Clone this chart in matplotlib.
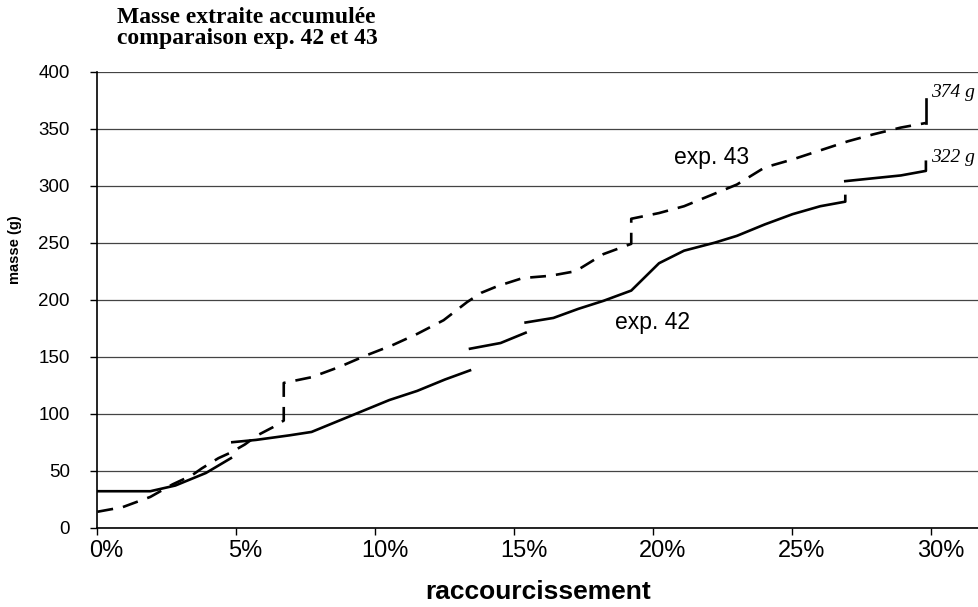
import numpy as np
import matplotlib.pyplot as plt
from matplotlib.ticker import FuncFormatter
from matplotlib.transforms import ScaledTranslation

# raccourcissement (%) / masse (g) -- nan = coupure dans la courbe
exp42_x = [0, 1.9, 2.8, 3.9, 4.8, np.nan,
           4.85, 5.7, 6.9, 7.7, 9.3, 10.5, 11.5, 12.5, 13.4, np.nan,
           13.4, 14.5, 15.4, np.nan,
           15.4, 16.4, 17.3, 18.2, 19.2, 20.2, 21.1, 22.2, 23.0, 24.0, 25.0, 26.0, 26.9, 26.9, np.nan,
           26.9, 28.9, 29.8, 29.8]
exp42_y = [32, 32, 37, 48, 61, np.nan,
           75, 77, 81, 84, 100, 112, 120, 130, 138, np.nan,
           157, 162, 171, np.nan,
           180, 184, 192, 199, 208, 232, 243, 250, 256, 266, 275, 282, 286, 291, np.nan,
           304, 309, 313, 321]

exp43_x = [0, 0.9, 1.9, 2.7, 3.4, 3.75, 4.35, 4.8, 5.3, 5.75, 6.3, 6.7, 6.7,
           7.7, 8.7, 9.65, 10.6, 11.5, 12.45, 13.3, 13.8, 14.4, 15.3, 16.3, 17.2, 18.2, 19.2, 19.2,
           20.2, 21.1, 22.0, 23.0, 24.0, 25.0, 26.0, 27.0, 27.9, 28.9, 29.8, 29.8]
exp43_y = [14, 18, 27, 38, 46, 52, 61, 66, 73, 81, 88, 94, 127,
           132, 141, 151, 160, 170, 182, 198, 206, 212, 219, 221, 225, 240, 249, 271,
           276, 282, 291, 301, 316, 323, 331, 339, 345, 351, 355, 376]

yticks = [0, 50, 100, 150, 200, 250, 300, 350, 400]
xticks = [0, 5, 10, 15, 20, 25, 30]

fig = plt.figure(figsize=(9.79, 6.07), dpi=100)
ax = fig.add_axes([97.5 / 979, 79.3 / 607, 1 - 97.5 / 979, 456 / 607])

ax.plot(exp42_x, exp42_y, color="black", lw=1.9)
# courbe 43 en tirets, le trait final (masse totale) en plein
ax.plot(exp43_x[:-1], exp43_y[:-1], color="black", lw=1.9, dashes=(6, 3.8))
ax.plot(exp43_x[-2:], exp43_y[-2:], color="black", lw=1.9)

ax.set_xlim(0, 31.71)
ax.set_ylim(0, 400)
ax.set_yticks(yticks)
ax.set_xticks(xticks)
ax.xaxis.set_major_formatter(FuncFormatter(lambda v, p: f"{v:.0f}%"))
ax.yaxis.grid(True, color="#444444", lw=0.9)
ax.set_axisbelow(True)
for s in ["top", "right"]:
    ax.spines[s].set_visible(False)
ax.spines["left"].set_linewidth(1.2)
ax.spines["bottom"].set_linewidth(1.2)
ax.tick_params(direction="out", length=5, width=1, labelfontfamily="Liberation Sans")
ax.tick_params(axis="x", labelsize=17, pad=4)
ax.tick_params(axis="y", labelsize=13.5, pad=15)

# les etiquettes de l'axe x sont un peu decalees vers la droite
shift = ScaledTranslation(9 / 100, 0, fig.dpi_scale_trans)
for lbl in ax.get_xticklabels():
    lbl.set_transform(lbl.get_transform() + shift)

ax.set_xlabel("raccourcissement", fontsize=19, fontweight="bold",
              family="Liberation Sans", labelpad=13)
ax.set_ylabel("masse (g)", fontsize=10.5, fontweight="bold", family="Liberation Sans")
ax.yaxis.set_label_coords(-0.086, 0.61)

fig.text(117 / 979, 1 - 28 / 607, "Masse extraite accumulée\ncomparaison exp. 42 et 43",
         family="Liberation Serif", fontweight="bold", fontsize=17,
         va="center", ha="left", linespacing=0.95)

ax.text(22.1, 325, "exp. 43", fontsize=16.5, family="Liberation Sans", ha="center", va="center")
ax.text(19.95, 180, "exp. 42", fontsize=16.5, family="Liberation Sans", ha="center", va="center")
ax.text(30.0, 382, "374 g", fontsize=14, family="Liberation Serif", style="italic",
        ha="left", va="center", clip_on=False)
ax.text(30.0, 325, "322 g", fontsize=14, family="Liberation Serif", style="italic",
        ha="left", va="center", clip_on=False)

fig.savefig("out.png", dpi=100)
